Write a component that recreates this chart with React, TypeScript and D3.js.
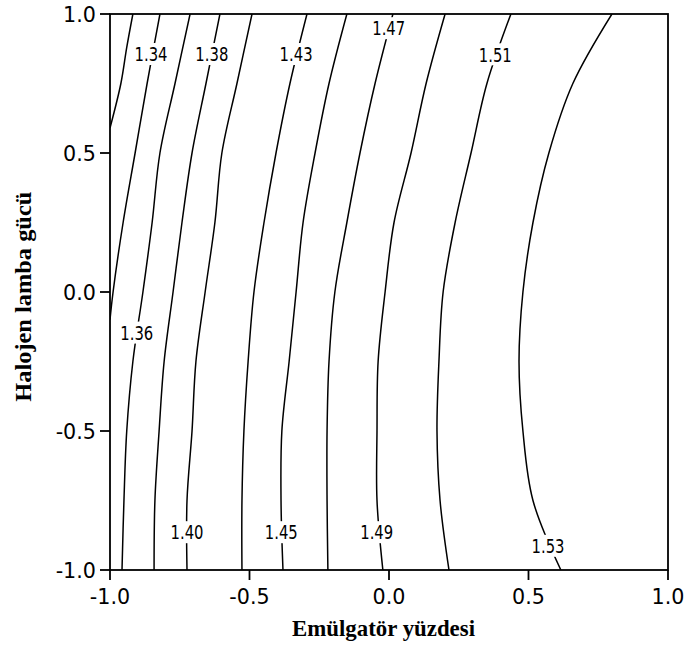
import React from 'react';
import * as d3 from 'd3';

const W = 686;
const H = 648;

// Axis ticks
const xTickValues = [-1.0, -0.5, 0.0, 0.5, 1.0];
const xTickLabels = ['-1.0', '-0.5', '0.0', '0.5', '1.0'];
const yTickValues = [-1.0, -0.5, 0.0, 0.5, 1.0];
const yTickLabels = ['-1.0', '-0.5', '0.0', '0.5', '1.0'];

// Contour levels (response)
const levels = [1.32, 1.34, 1.36, 1.38, 1.40, 1.43, 1.45, 1.47, 1.49, 1.51, 1.53];

// Contours that leave through the left edge: [x, y] points
const c132 = [[-0.918, 1.0], [-0.940, 0.88], [-0.961, 0.75], [-1.0, 0.59]];
const c134 = [[-0.821, 1.0], [-0.867, 0.75], [-0.910, 0.5], [-0.953, 0.25], [-0.989, 0.0], [-1.0, -0.10]];

// Remaining contours: x position at each y of yGrid
const yGrid = [1.0, 0.75, 0.5, 0.25, 0.0, -0.25, -0.5, -0.75, -1.0];
const x136 = [-0.713, -0.767, -0.821, -0.849, -0.882, -0.918, -0.940, -0.950, -0.957];
const x138 = [-0.606, -0.656, -0.706, -0.742, -0.774, -0.806, -0.824, -0.839, -0.842];
const x140 = [-0.491, -0.545, -0.599, -0.624, -0.659, -0.692, -0.706, -0.724, -0.724];
const x143 = [-0.294, -0.355, -0.405, -0.448, -0.484, -0.505, -0.520, -0.527, -0.527];
const x145 = [-0.151, -0.215, -0.265, -0.308, -0.333, -0.358, -0.384, -0.387, -0.380];
const x147 = [0.014, -0.050, -0.104, -0.151, -0.194, -0.215, -0.222, -0.222, -0.219];
const x149 = [0.201, 0.133, 0.079, 0.018, -0.014, -0.039, -0.043, -0.043, -0.022];
const x151 = [0.437, 0.351, 0.294, 0.237, 0.194, 0.179, 0.172, 0.183, 0.215];
const x153 = [0.799, 0.659, 0.573, 0.516, 0.480, 0.466, 0.480, 0.516, 0.616];

// Contour labels
const labelText = ['1.34', '1.38', '1.43', '1.47', '1.51', '1.36', '1.40', '1.45', '1.49', '1.53'];
const labelX = [-0.853, -0.635, -0.333, -0.001, 0.381, -0.904, -0.724, -0.386, -0.044, 0.570];
const labelY = [0.856, 0.856, 0.856, 0.949, 0.855, -0.146, -0.864, -0.864, -0.864, -0.913];

const xTitle = 'Emülgatör yüzdesi';
const yTitle = 'Halojen lamba gücü';

const margin = { left: 110, right: 18, top: 14, bottom: 78 };

function advance(s: string): number {
  let w = 0;
  for (const c of s) {
    if (c === '.') w += 0.318;
    else if (c === '-') w += 0.361;
    else w += 0.636;
  }
  return w;
}

export default function App() {
  const xs = d3.scaleLinear().domain([-1, 1]).range([margin.left, W - margin.right]);
  const ys = d3.scaleLinear().domain([-1, 1]).range([H - margin.bottom, margin.top]);

  const gridLines = [x136, x138, x140, x143, x145, x147, x149, x151, x153].map((arr) =>
    arr.map((x, i) => [x, yGrid[i]] as [number, number])
  );
  const contours: [number, number][][] = [c132 as [number, number][], c134 as [number, number][], ...gridLines];

  const line = d3
    .line<[number, number]>()
    .x((d) => xs(d[0]))
    .y((d) => ys(d[1]))
    .curve(d3.curveCatmullRom.alpha(0.5));

  const tickFs = 22;
  const tickSqueeze = 0.94;
  const lblFs = 19.5;
  const lblW = 33;

  const x0 = xs(-1), x1 = xs(1), y0 = ys(-1), y1 = ys(1);

  return (
    <svg
      width={W}
      height={H}
      viewBox={`0 0 ${W} ${H}`}
      style={{ position: 'absolute', left: 0, top: 0, background: '#fff' }}
    >
      <defs>
        <clipPath id="plotClip">
          <rect x={x0} y={y1} width={x1 - x0} height={y0 - y1} />
        </clipPath>
      </defs>
      <rect x={0} y={0} width={W} height={H} fill="#fff" />

      <g clipPath="url(#plotClip)">
        {contours.map((pts, i) => (
          <path key={levels[i]} d={line(pts) || ''} fill="none" stroke="#000" strokeWidth={1.5} />
        ))}
      </g>

      {labelText.map((t, i) => {
        const cx = xs(labelX[i]);
        const cy = ys(labelY[i]);
        return (
          <g key={t}>
            <rect x={cx - lblW / 2 - 2} y={cy - 11} width={lblW + 4} height={22} fill="#fff" />
            <text
              x={cx}
              y={cy + 7.2}
              textAnchor="middle"
              fontFamily="DejaVu Sans, Verdana, sans-serif"
              fontSize={lblFs}
              textLength={lblW}
              lengthAdjust="spacingAndGlyphs"
              fill="#000"
            >
              {t}
            </text>
          </g>
        );
      })}

      {/* frame */}
      <rect x={x0} y={y1} width={x1 - x0} height={y0 - y1} fill="none" stroke="#000" strokeWidth={1.8} />

      {/* y ticks */}
      {yTickValues.map((v, i) => (
        <g key={'y' + v}>
          <line x1={x0 - 10} x2={x0} y1={ys(v)} y2={ys(v)} stroke="#000" strokeWidth={1.8} />
          <text
            x={x0 - 14}
            y={ys(v) + 8}
            textAnchor="end"
            fontFamily="DejaVu Sans, Verdana, sans-serif"
            fontSize={tickFs}
            textLength={advance(yTickLabels[i]) * tickFs * tickSqueeze}
            lengthAdjust="spacingAndGlyphs"
            fill="#000"
          >
            {yTickLabels[i]}
          </text>
        </g>
      ))}

      {/* x ticks */}
      {xTickValues.map((v, i) => (
        <g key={'x' + v}>
          <line x1={xs(v)} x2={xs(v)} y1={y0} y2={y0 + 10} stroke="#000" strokeWidth={1.8} />
          <text
            x={xs(v)}
            y={y0 + 34}
            textAnchor="middle"
            fontFamily="DejaVu Sans, Verdana, sans-serif"
            fontSize={tickFs}
            textLength={advance(xTickLabels[i]) * tickFs * tickSqueeze}
            lengthAdjust="spacingAndGlyphs"
            fill="#000"
          >
            {xTickLabels[i]}
          </text>
        </g>
      ))}

      {/* axis titles */}
      <text
        x={383.5}
        y={636}
        textAnchor="middle"
        fontFamily="Liberation Serif, Times New Roman, serif"
        fontWeight="bold"
        fontSize={24}
        textLength={183}
        lengthAdjust="spacingAndGlyphs"
        fill="#000"
      >
        {xTitle}
      </text>
      <text
        transform={`translate(31, 296.7) rotate(-90)`}
        x={0}
        y={0}
        textAnchor="middle"
        fontFamily="Liberation Serif, Times New Roman, serif"
        fontWeight="bold"
        fontSize={24}
        textLength={210}
        lengthAdjust="spacingAndGlyphs"
        fill="#000"
      >
        {yTitle}
      </text>
    </svg>
  );
}
